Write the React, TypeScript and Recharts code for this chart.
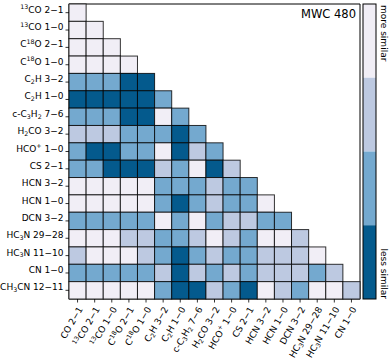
import { ScatterChart, Scatter, XAxis, YAxis, ReferenceArea } from 'recharts'

// row / column labels (^{..} superscript, _{..} subscript)
const rowLabels = [
  '^{13}CO 2−1', '^{13}CO 1−0', 'C^{18}O 2−1', 'C^{18}O 1−0', 'C_{2}H 3−2', 'C_{2}H 1−0',
  'c-C_{3}H_{2} 7−6', 'H_{2}CO 3−2', 'HCO^{+} 1−0', 'CS 2−1', 'HCN 3−2', 'HCN 1−0',
  'DCN 3−2', 'HC_{3}N 29−28', 'HC_{3}N 11−10', 'CN 1−0', 'CH_{3}CN 12−11',
]
const colLabels = [
  'CO 2−1', '^{13}CO 2−1', '^{13}CO 1−0', 'C^{18}O 2−1', 'C^{18}O 1−0', 'C_{2}H 3−2',
  'C_{2}H 1−0', 'c-C_{3}H_{2} 7−6', 'H_{2}CO 3−2', 'HCO^{+} 1−0', 'CS 2−1', 'HCN 3−2',
  'HCN 1−0', 'DCN 3−2', 'HC_{3}N 29−28', 'HC_{3}N 11−10', 'CN 1−0',
]

// similarity class per cell, 0 = more similar ... 3 = less similar (lower triangle)
const similarity = [
  [0],
  [0, 0],
  [0, 0, 0],
  [0, 0, 0, 0],
  [2, 2, 2, 3, 3],
  [3, 3, 3, 3, 3, 2],
  [2, 2, 2, 3, 3, 0, 2],
  [1, 1, 1, 2, 2, 2, 3, 2],
  [2, 3, 3, 2, 2, 0, 3, 1, 2],
  [2, 2, 3, 3, 3, 1, 2, 0, 3, 1],
  [0, 0, 0, 0, 0, 2, 2, 2, 1, 2, 2],
  [0, 0, 0, 0, 0, 2, 3, 2, 1, 2, 2, 0],
  [2, 2, 2, 2, 2, 0, 2, 0, 2, 1, 1, 2, 2],
  [0, 0, 0, 1, 1, 2, 2, 1, 0, 1, 2, 0, 0, 1],
  [1, 0, 0, 0, 1, 2, 3, 2, 1, 2, 2, 1, 1, 1, 0],
  [2, 2, 2, 2, 2, 1, 3, 1, 2, 1, 2, 1, 1, 1, 2, 1],
  [0, 0, 0, 0, 0, 2, 3, 3, 1, 2, 3, 0, 1, 2, 0, 0, 1],
]

const LEVEL_COLORS = ['#f1eef6', '#bdc9e1', '#74a9cf', '#045a8d']
const FONT = '"DejaVu Sans", sans-serif'
const FS = 9

const WIDTH = 391
const HEIGHT = 361
const MARGIN = { top: 4, right: 31, bottom: 0, left: 0 }
const YAXIS_W = 69
const XAXIS_H = 62
const PLOT_W = WIDTH - MARGIN.left - MARGIN.right - YAXIS_W
const PLOT_H = HEIGHT - MARGIN.top - MARGIN.bottom - XAXIS_H
const CELL_W = PLOT_W / colLabels.length
const CELL_H = PLOT_H / rowLabels.length

const cells = similarity.flatMap((row, r) => row.map((level, c) => ({ x: c, y: r, level })))
const rowTicks = rowLabels.map((_, i) => i)
const colTicks = colLabels.map((_, i) => i)

function rich(label: string, fs: number) {
  const parts = label.split(/(\^\{[^}]*\}|_\{[^}]*\})/).filter(Boolean)
  let shift = 0
  return parts.map((p, i) => {
    if (p.startsWith('^{')) {
      const dy = -fs * 0.38 - shift
      shift = -fs * 0.38
      return <tspan key={i} dy={dy} fontSize={fs * 0.7}>{p.slice(2, -1)}</tspan>
    }
    if (p.startsWith('_{')) {
      const dy = fs * 0.2 - shift
      shift = fs * 0.2
      return <tspan key={i} dy={dy} fontSize={fs * 0.7}>{p.slice(2, -1)}</tspan>
    }
    const dy = -shift
    shift = 0
    return <tspan key={i} dy={dy} fontSize={fs}>{p}</tspan>
  })
}

// eslint-disable-next-line @typescript-eslint/no-explicit-any
function YTick(props: any) {
  const { x, y, payload } = props
  return (
    <text x={x} y={y} dy="0.35em" textAnchor="end" fontFamily={FONT} fontSize={FS} fill="#000">
      {rich(rowLabels[payload.value], FS)}
    </text>
  )
}

// eslint-disable-next-line @typescript-eslint/no-explicit-any
function XTick(props: any) {
  const { x, y, payload } = props
  return (
    <g transform={`translate(${x + 5.5},${y + 4.5})`}>
      <text textAnchor="end" transform="rotate(-60)" fontFamily={FONT} fontSize={FS} fill="#000">
        {rich(colLabels[payload.value], FS)}
      </text>
    </g>
  )
}

// eslint-disable-next-line @typescript-eslint/no-explicit-any
function Cell(props: any) {
  const { cx, cy, payload } = props
  return (
    <rect
      x={cx - CELL_W / 2}
      y={cy - CELL_H / 2}
      width={CELL_W}
      height={CELL_H}
      fill={LEVEL_COLORS[payload.level]}
      stroke="#000"
      strokeOpacity={0.8}
      strokeWidth={1}
    />
  )
}

function Colorbar() {
  const x = 363
  const w = 13
  const top = MARGIN.top
  const segH = PLOT_H / LEVEL_COLORS.length
  return (
    <svg width={WIDTH} height={HEIGHT} style={{ position: 'absolute', left: 0, top: 0, pointerEvents: 'none' }}>
      <text x={356} y={18} textAnchor="end" fontFamily={FONT} fontSize={11.5} fill="#000">MWC 480</text>
      {LEVEL_COLORS.map((c, i) => (
        <rect key={i} x={x} y={top + i * segH} width={w} height={segH} fill={c} />
      ))}
      <rect x={x} y={top} width={w} height={PLOT_H} fill="none" stroke="#000" strokeWidth={1} />
      <text transform={`translate(381,${top + 1}) rotate(90)`} fontFamily={FONT} fontSize={FS} fill="#000">more similar</text>
      <text transform={`translate(381,${top + PLOT_H}) rotate(90)`} textAnchor="end" fontFamily={FONT} fontSize={FS} fill="#000">less similar</text>
    </svg>
  )
}

export default function App() {
  return (
    <div style={{ position: 'absolute', left: 0, top: 0, width: WIDTH, height: HEIGHT, background: '#fff' }}>
      <ScatterChart width={WIDTH} height={HEIGHT} margin={MARGIN}>
        <XAxis
          type="number"
          dataKey="x"
          domain={[-0.5, colLabels.length - 0.5]}
          ticks={colTicks}
          interval={0}
          height={XAXIS_H}
          axisLine={false}
          tickSize={3.5}
          tickLine={{ stroke: '#000', strokeWidth: 0.8 }}
          tick={<XTick />}
        />
        <YAxis
          type="number"
          dataKey="y"
          reversed
          domain={[-0.5, rowLabels.length - 0.5]}
          ticks={rowTicks}
          interval={0}
          width={YAXIS_W}
          axisLine={false}
          tickSize={3.5}
          tickLine={{ stroke: '#000', strokeWidth: 0.8 }}
          tick={<YTick />}
        />
        <Scatter data={cells} shape={<Cell />} isAnimationActive={false} />
        <ReferenceArea
          x1={-0.5}
          x2={colLabels.length - 0.5}
          y1={-0.5}
          y2={rowLabels.length - 0.5}
          fill="none"
          stroke="#000"
          strokeWidth={1}
          ifOverflow="visible"
        />
      </ScatterChart>
      <Colorbar />
    </div>
  )
}
